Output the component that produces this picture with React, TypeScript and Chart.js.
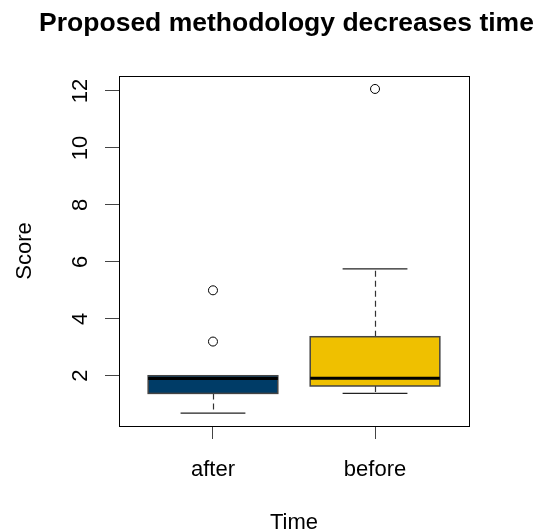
import React, { useEffect, useRef } from 'react';
import { Chart, registerables } from 'chart.js';

Chart.register(...registerables);

// ---- data ----
const categories = ['after', 'before'];
const lowerWhisker = [0.69, 1.38];
const q1 = [1.38, 1.64];
const median = [1.9, 1.91];
const q3 = [2.0, 3.37];
const upperWhisker = [2.0, 5.75];
const outliersAfter = [3.2, 5.0];
const outliersBefore = [12.07];
const boxColors = ['#003C67', '#EFC000'];
const yTicks = [2, 4, 6, 8, 10, 12];
const titleText = 'Proposed methodology decreases time';
const xTitle = 'Time';
const yTitle = 'Score';

const FONT = '"Liberation Sans", Arial, Helvetica, sans-serif';

const allValues = [...lowerWhisker, ...upperWhisker, ...outliersAfter, ...outliersBefore];
const dataMin = Math.min(...allValues);
const dataMax = Math.max(...allValues);
const yPad = 0.04 * (dataMax - dataMin);
const xPad = 0.04 * categories.length;

const boxPlugin = {
  id: 'rBoxes',
  beforeDatasetsDraw(chart: any) {
    const { ctx, scales } = chart;
    const x = scales.x;
    const y = scales.y;
    const line = (x1: number, y1: number, x2: number, y2: number) => {
      ctx.beginPath();
      ctx.moveTo(x1, y1);
      ctx.lineTo(x2, y2);
      ctx.stroke();
    };
    ctx.save();
    categories.forEach((_, i) => {
      const pos = i + 1;
      const c = Math.round(x.getPixelForValue(pos)) + 0.5;
      const l = x.getPixelForValue(pos - 0.4);
      const r = x.getPixelForValue(pos + 0.4);
      const cl = x.getPixelForValue(pos - 0.2);
      const cr = x.getPixelForValue(pos + 0.2);
      const yLow = y.getPixelForValue(lowerWhisker[i]);
      const yUp = y.getPixelForValue(upperWhisker[i]);
      const yQ1 = y.getPixelForValue(q1[i]);
      const yQ3 = y.getPixelForValue(q3[i]);
      const yMed = y.getPixelForValue(median[i]);

      // whiskers
      ctx.strokeStyle = '#333';
      ctx.lineWidth = 1.2;
      ctx.setLineDash([6, 4]);
      line(c, yQ3, c, yUp);
      line(c, yQ1, c, yLow);
      ctx.setLineDash([]);
      ctx.strokeStyle = '#222';
      line(cl, yUp, cr, yUp);
      line(cl, yLow, cr, yLow);

      // box
      ctx.fillStyle = boxColors[i];
      ctx.fillRect(l, yQ3, r - l, yQ1 - yQ3);
      ctx.strokeStyle = '#444';
      ctx.lineWidth = 1.5;
      ctx.strokeRect(l, yQ3, r - l, yQ1 - yQ3);

      // median
      ctx.strokeStyle = '#000';
      ctx.lineWidth = 3;
      line(l, yMed, r, yMed);
    });
    ctx.restore();
  },
  afterDraw(chart: any) {
    const { ctx, chartArea: a } = chart;
    ctx.save();
    ctx.strokeStyle = '#000';
    ctx.lineWidth = 1;
    ctx.strokeRect(
      Math.round(a.left) + 0.5,
      Math.round(a.top) + 0.5,
      Math.round(a.right - a.left),
      Math.round(a.bottom - a.top)
    );
    ctx.font = `bold 26.5px ${FONT}`;
    ctx.fillStyle = '#000';
    ctx.textAlign = 'center';
    ctx.textBaseline = 'alphabetic';
    ctx.fillText(titleText, (a.left + a.right) / 2 - 7.5, 31);
    ctx.restore();
  },
};

export default function App() {
  const canvasRef = useRef<HTMLCanvasElement | null>(null);

  useEffect(() => {
    const canvas = canvasRef.current;
    if (!canvas) return;
    const outlierPoints = [
      ...outliersAfter.map((v) => ({ x: 1, y: v })),
      ...outliersBefore.map((v) => ({ x: 2, y: v })),
    ];
    const chart = new Chart(canvas, {
      type: 'scatter',
      data: {
        datasets: [
          {
            label: 'outliers',
            data: outlierPoints,
            pointStyle: 'circle',
            pointRadius: 4.5,
            pointBorderWidth: 1,
            pointBackgroundColor: '#fff',
            pointBorderColor: '#000',
          },
        ],
      },
      options: {
        animation: false,
        responsive: false,
        devicePixelRatio: 1,
        layout: { padding: { top: 76, right: 72, bottom: 0, left: 0 } },
        plugins: {
          legend: { display: false },
          tooltip: { enabled: false },
          title: { display: false },
        },
        scales: {
          x: {
            type: 'linear',
            position: 'bottom',
            min: 0.5 - xPad,
            max: categories.length + 0.5 + xPad,
            afterBuildTicks: (s: any) => {
              s.ticks = categories.map((_, i) => ({ value: i + 1 }));
            },
            afterFit: (s: any) => {
              s.height = 105;
            },
            grid: { drawOnChartArea: false, tickLength: 13, color: '#444', lineWidth: 1 },
            border: { display: false },
            ticks: {
              autoSkip: false,
              maxRotation: 0,
              minRotation: 0,
              padding: 17.5,
              color: '#000',
              font: { family: FONT, size: 22 },
              callback: (v: any) => categories[Number(v) - 1] ?? '',
            },
            title: {
              display: true,
              text: xTitle,
              color: '#000',
              font: { family: FONT, size: 22 },
              padding: { top: 0, bottom: -5 },
            },
          },
          y: {
            type: 'linear',
            position: 'left',
            min: dataMin - yPad,
            max: dataMax + yPad,
            afterBuildTicks: (s: any) => {
              s.ticks = yTicks.map((v) => ({ value: v }));
            },
            afterFit: (s: any) => {
              s.width = 119;
            },
            grid: { drawOnChartArea: false, tickLength: 14, color: '#444', lineWidth: 1 },
            border: { display: false },
            ticks: {
              autoSkip: false,
              minRotation: 90,
              maxRotation: 90,
              crossAlign: 'center',
              padding: 12,
              color: '#000',
              font: { family: FONT, size: 22 },
              callback: (v: any) => String(v),
            },
            title: {
              display: true,
              text: yTitle,
              color: '#000',
              font: { family: FONT, size: 22 },
              padding: { top: 12, bottom: 0 },
            },
          },
        },
      },
      plugins: [boxPlugin],
    } as any);
    return () => chart.destroy();
  }, []);

  return (
    <div style={{ position: 'absolute', left: 0, top: 0, width: 541, height: 531, background: '#fff' }}>
      <canvas ref={canvasRef} width={541} height={531} style={{ display: 'block' }} />
    </div>
  );
}
